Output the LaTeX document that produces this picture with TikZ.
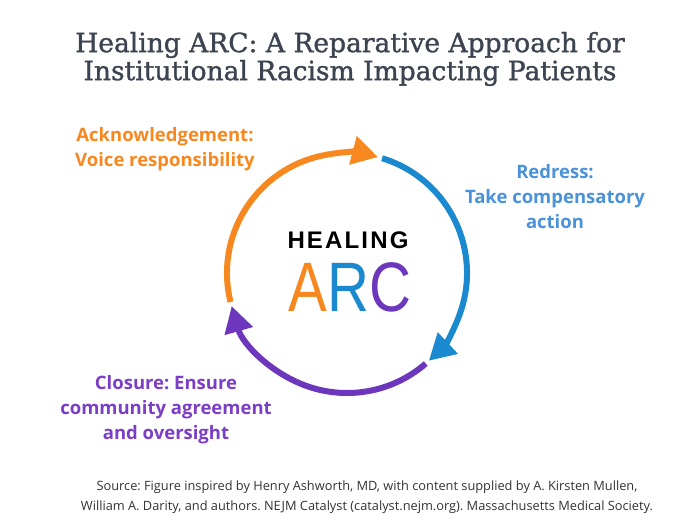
\documentclass[tikz,border=0pt]{standalone}
\usepackage{fontspec}
\setmainfont{Open Sans}
\newfontfamily\titlefont[FakeBold=1.2]{DejaVu Serif}
\newfontfamily\logofont{Liberation Sans}
\usetikzlibrary{arrows.meta}
\frenchspacing
\definecolor{titlecol}{HTML}{3D4451}
\definecolor{orng}{HTML}{F7881F}
\definecolor{bluetxt}{HTML}{4A92DA}
\definecolor{bluearc}{HTML}{1B89CF}
\definecolor{purptxt}{HTML}{7B3EC6}
\definecolor{purparc}{HTML}{6C36BD}
\definecolor{srccol}{HTML}{333333}
\tikzset{
  arcline/.style={line width=6pt, -{Triangle[length=26pt,width=28pt]}},
  lbl/.style={font=\fontsize{18.5}{25}\selectfont\bfseries, align=center, inner sep=0pt},
  ttl/.style={font=\titlefont\fontsize{26.5}{28}\selectfont, text=titlecol, align=center, inner sep=0pt},
  src/.style={font=\fontsize{12.8}{20}\selectfont, text=srccol, align=center, inner sep=0pt}
}
\begin{document}
\begin{tikzpicture}[x=1pt,y=1pt]
\useasboundingbox (0,0) rectangle (700,525);
\fill[white] (0,0) rectangle (700,525);
\coordinate (c) at (347,252);
% title
\node[ttl] (title) at (350,466) {Healing ARC: A Reparative Approach for\\Institutional Racism Impacting Patients};
% arcs
\draw[arcline, orng] (c) ++(194:120) arc[start angle=194, end angle=75, radius=120];
\draw[arcline, bluearc] (c) ++(73:120) arc[start angle=73, end angle=-47, radius=120];
\draw[arcline, purparc] (c) ++(-49:120) arc[start angle=-49, end angle=-164, radius=120];
% center logo
\node[inner sep=0pt, font=\logofont\bfseries\fontsize{24}{24}\selectfont\addfontfeature{LetterSpace=9}] (healing) at (348,285) {HEALING};
\node[inner sep=0pt, font=\logofont\fontsize{70}{70}\selectfont, anchor=base] (arc) at (350,214) {\scalebox{0.83}[1]{\textcolor{orng}{A}\textcolor{bluearc}{R}\textcolor{purparc}{C}}};
% labels
\node[lbl, text=orng] (ack) at (165,375.5) {Acknowledgement:\\Voice responsibility};
\node[lbl, text=bluetxt] (red) at (555,328) {Redress:\\Take compensatory\\action};
\node[lbl, text=purptxt] (clos) at (166,115) {Closure: Ensure\\community agreement\\and oversight};
% source
\node[src] (source) at (367,28) {Source: Figure inspired by Henry Ashworth, MD, with content supplied by A. Kirsten Mullen,\\William A. Darity, and authors. NEJM Catalyst (catalyst.nejm.org). Massachusetts Medical Society.};
\end{tikzpicture}
\end{document}
